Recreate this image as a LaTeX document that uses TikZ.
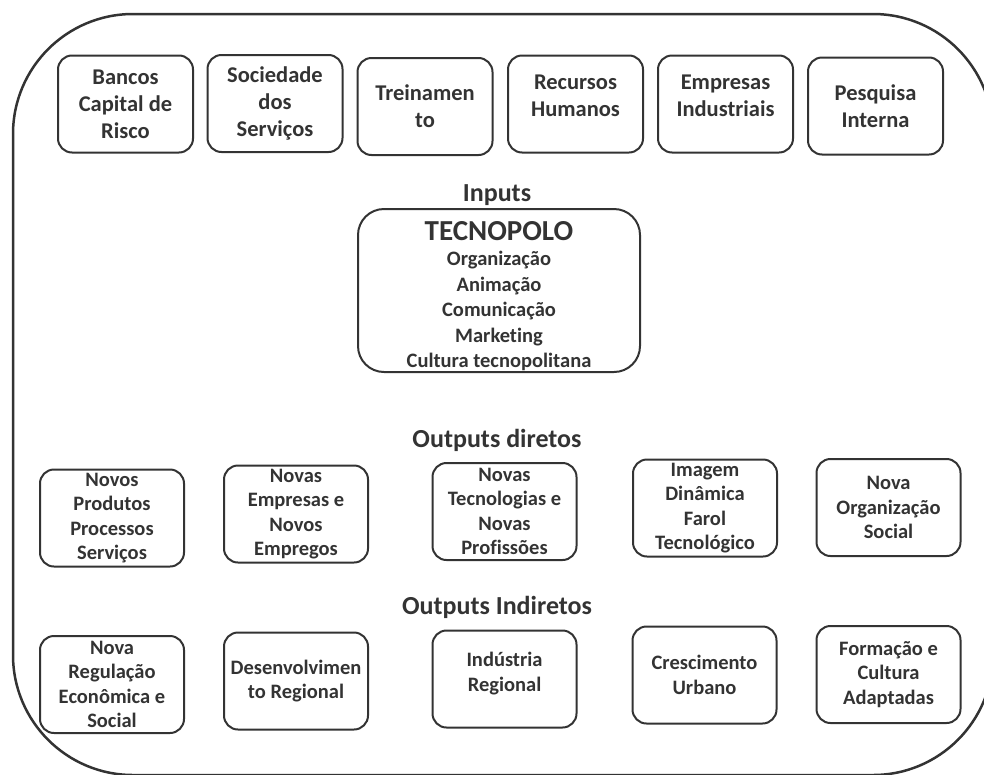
\documentclass[tikz,border=0pt]{standalone}
\usepackage{fontspec}
\setmainfont{Carlito}[Ligatures=CommonOff]
\definecolor{ink}{HTML}{333333}
\newcommand\topfnt{\bfseries\fontsize{22.5}{27}\selectfont}
\newcommand\botfnt{\bfseries\fontsize{20.5}{24.5}\selectfont}
\newcommand\titlefnt{\bfseries\fontsize{26}{30}\selectfont}
\newcommand\innerfnt{\bfseries\fontsize{20.5}{25.5}\selectfont}
\newcommand\bigfnt{\bfseries\fontsize{29}{30}\selectfont}
\tikzset{
  frame/.style={draw=ink, line width=2.5pt, rounded corners=120pt},
  topbox/.style={draw=ink, line width=2pt, rounded corners=14pt, minimum width=135pt, minimum height=97pt, inner sep=0pt, align=center, font=\topfnt, text=ink},
  botbox/.style={draw=ink, line width=2pt, rounded corners=14pt, minimum width=144pt, minimum height=97pt, inner sep=0pt, align=center, font=\botfnt, text=ink},
  bigbox/.style={draw=ink, line width=2pt, rounded corners=26pt, minimum width=282pt, minimum height=163pt, inner sep=0pt},
  title/.style={font=\titlefnt, text=ink, inner sep=0pt},
  inner/.style={font=\innerfnt, text=ink, align=center, inner sep=0pt, anchor=north},
}
\begin{document}
\begin{tikzpicture}[x=1pt,y=-1pt]
\useasboundingbox (0,0) rectangle (984,774);
\begin{scope}
\clip (0,0) rectangle (984,774);
\draw[frame] (13,14) rectangle (993,775);
\end{scope}
% top row
\node[topbox] (b1) at (125.5,104) {Bancos\\Capital de\\Risco};
\node[topbox] (b2) at (275,103.5) {Sociedade\\dos\\Serviços};
\node[topbox] (b3) at (425,106.5) {Treinamen\\to};
\node[topbox] (b4) at (575.5,104) {Recursos\\Humanos\\[-10pt]\mbox{}};
\node[topbox] (b5) at (725.5,104) {Empresas\\Industriais\\[-10pt]\mbox{}};
\node[topbox] (b6) at (875.5,106) {Pesquisa\\Interna};
% inputs
\node[title] (inp) at (497,195) {Inputs};
\node[bigbox] (tp) at (499,290.5) {};
\node[inner] (tpt) at (499,221) {{\bigfnt TECNOPOLO}\\[0pt]Organização\\Animação\\Comunicação\\Marketing\\Cultura tecnopolitana};
% outputs diretos
\node[title] (od) at (497,440) {Outputs diretos};
\node[botbox] (m1) at (112,518) {Novos\\Produtos\\Processos\\Serviços};
\node[botbox] (m2) at (296,514) {Novas\\Empresas e\\Novos\\Empregos};
\node[botbox] (m3) at (504.5,511.5) {Novas\\Tecnologias e\\Novas\\Profissões};
\node[botbox] (m4) at (705,508) {Imagem\\Dinâmica\\Farol\\Tecnológico};
\node[botbox] (m5) at (888.5,507.5) {Nova\\Organização\\Social};
% outputs indiretos
\node[title] (oi) at (497,607) {Outputs Indiretos};
\node[botbox] (n1) at (112,684.5) {Nova\\Regulação\\Econômica e\\Social};
\node[botbox] (n2) at (296,681) {Desenvolvimen\\to Regional};
\node[botbox] (n3) at (504.5,679) {Indústria\\Regional\\[-10pt]\mbox{}};
\node[botbox] (n4) at (704.5,675) {Crescimento\\Urbano};
\node[botbox] (n5) at (888.5,674.5) {Formação e\\Cultura\\Adaptadas};
\end{tikzpicture}
\end{document}
